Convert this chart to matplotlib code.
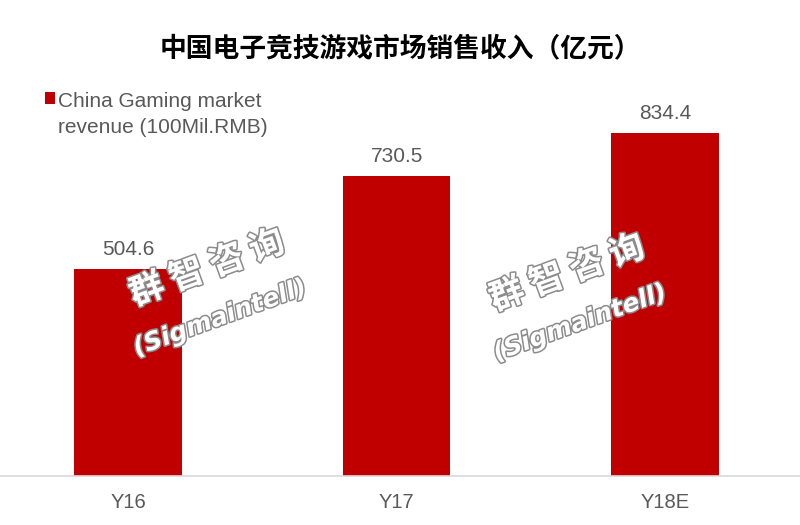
import matplotlib.pyplot as plt
import matplotlib.patheffects as pe

plt.rcParams['font.family'] = ['Liberation Sans', 'Noto Sans CJK SC', 'DejaVu Sans']

categories = ['Y16', 'Y17', 'Y18E']
revenue = [504.6, 730.5, 834.4]
title = '中国电子竞技游戏市场销售收入（亿元）'
series_name = 'China Gaming market\nrevenue (100Mil.RMB)'

red = '#C00000'
gray = '#595959'

fig = plt.figure(figsize=(8, 5.25), dpi=100)
ax = fig.add_axes([0, 0.0933, 1, 0.783])

x = range(len(categories))
bars = ax.bar(x, revenue, width=0.40, color=red, label=series_name)

for xi, v in zip(x, revenue):
    ax.annotate('%.1f' % v, (xi, v), xytext=(0, 10), textcoords='offset points',
                ha='center', va='baseline', fontsize=15, color=gray)

ax.set_xlim(-0.4767, 2.502)
ax.set_ylim(0, 1000)
ax.set_xticks(list(x))
ax.set_xticklabels(categories, fontsize=14.5, color=gray)
ax.tick_params(axis='x', length=0, pad=12)
ax.set_yticks([])
for s in ['top', 'left', 'right']:
    ax.spines[s].set_visible(False)
ax.spines['bottom'].set_color('#D9D9D9')
ax.spines['bottom'].set_linewidth(1.2)

fig.text(400, 525 - 48, title, transform=None, ha='center', va='center',
         fontsize=19.3, fontweight='bold', family=['Noto Sans CJK SC', 'DejaVu Sans'])

leg = ax.legend(loc='upper left', bbox_to_anchor=(45 / 800, (525 - 92) / 525),
                bbox_transform=fig.transFigure, frameon=False, fontsize=15,
                handlelength=0.5, handleheight=0.5, handletextpad=0.1,
                borderpad=0, borderaxespad=0)
for t in leg.get_texts():
    t.set_color(gray)
    t.set_linespacing(1.45)
# put the square next to the first line
for row in leg._legend_handle_box.get_children():
    for col in row.get_children():
        col.align = 'top'

# watermark
outline = [pe.withStroke(linewidth=2.2, foreground='#8C8C8C')]
for cx, cy in [(207, 268), (567, 273)]:
    fig.text(cx, 525 - cy, '群 智 咨 询', transform=None, ha='center', va='center',
             rotation=20, fontsize=25, fontweight='bold', color='white',
             family=['Noto Sans CJK SC', 'DejaVu Sans'], path_effects=outline)
    fig.text(cx + 13, 525 - cy - 50, '(Sigmaintell)', transform=None, ha='center',
             va='center', rotation=20, fontsize=18, fontweight='bold', style='italic',
             color='white', family='DejaVu Sans', path_effects=outline)

fig.savefig('out.png', dpi=100)
